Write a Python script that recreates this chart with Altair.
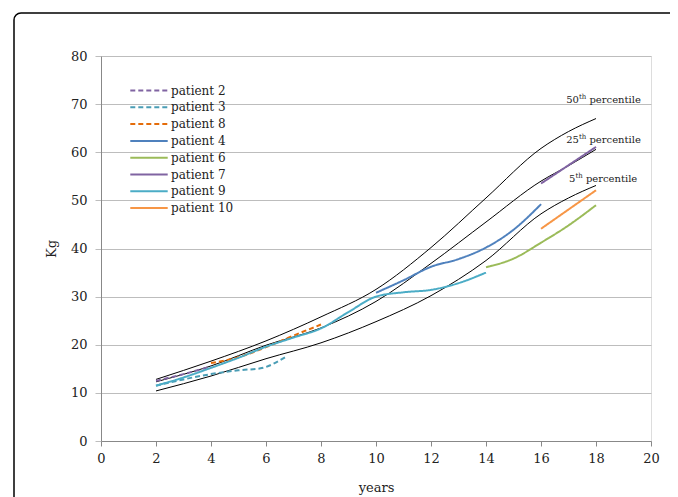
import altair as alt
import pandas as pd

# ---------------- data ----------------
pct_names = ["50th", "25th", "5th"]
pct_years = [2, 4, 6, 8, 10, 12, 14, 16, 17, 18]
pct50 = [12.8, 16.6, 20.8, 25.8, 31.5, 40.2, 50.5, 60.8, 64.3, 67.0]
pct25 = [12.3, 15.6, 19.9, 23.5, 29.0, 36.9, 45.5, 54.0, 57.2, 60.6]
pct05 = [10.4, 13.5, 17.1, 20.4, 24.8, 30.2, 37.5, 47.2, 50.5, 53.1]

patients = ["patient 2", "patient 3", "patient 8", "patient 4",
            "patient 6", "patient 7", "patient 9", "patient 10"]
colors = ["#8064A2", "#4A9DB5", "#E46C0A", "#4F81BD",
          "#9BBB59", "#8064A2", "#4BACC6", "#F79646"]
dashes = [[5, 3], [5, 3], [5, 3], [1, 0], [1, 0], [1, 0], [1, 0], [1, 0]]

p2_years = [2, 3, 4]
p2_kg = [12.5, 13.9, 15.5]
p3_years = [2, 3, 4, 5, 5.8, 6.7]
p3_kg = [11.5, 12.8, 13.9, 14.7, 15.1, 17.4]
p8_years = [4, 5, 6, 7, 8]
p8_kg = [16.2, 17.4, 19.5, 21.9, 24.2]
p4_years = [10, 11, 12, 13, 14, 15, 16]
p4_kg = [30.8, 33.4, 36.2, 37.8, 40.2, 43.9, 49.2]
p6_years = [14, 15, 16, 17, 18]
p6_kg = [36.1, 37.9, 41.2, 44.8, 49.0]
p7_years = [16, 18]
p7_kg = [53.5, 61.1]
p9_years = [2, 3, 4, 5, 6, 7, 8, 9, 10, 11, 12, 13, 14]
p9_kg = [11.5, 13.2, 15.2, 17.3, 19.6, 21.5, 23.4, 26.8, 30.0, 30.9, 31.4, 32.8, 35.0]
p10_years = [16, 18]
p10_kg = [44.1, 52.1]

label_texts = ["50", "25", "5"]
label_x = [17.38, 17.38, 17.25]
label_y = [70.15, 62.0, 53.8]

x_ticks = list(range(0, 21, 2))
y_ticks = list(range(0, 81, 10))

FONT = "DejaVu Serif"

# ---------------- frames ----------------
pct_rows = []
for name, vals in zip(pct_names, [pct50, pct25, pct05]):
    for yr, v in zip(pct_years, vals):
        pct_rows.append({"year": yr, "kg": v, "pct": name})
pct_df = pd.DataFrame(pct_rows)

series = {
    "patient 2": (p2_years, p2_kg), "patient 3": (p3_years, p3_kg),
    "patient 8": (p8_years, p8_kg), "patient 4": (p4_years, p4_kg),
    "patient 6": (p6_years, p6_kg), "patient 7": (p7_years, p7_kg),
    "patient 9": (p9_years, p9_kg), "patient 10": (p10_years, p10_kg),
}
pat_rows = []
for name in patients:
    ys, ks = series[name]
    for yr, k in zip(ys, ks):
        pat_rows.append({"year": yr, "kg": k, "patient": name})
pat_df = pd.DataFrame(pat_rows)

lab_df = pd.DataFrame({"num": label_texts, "x": label_x, "y": label_y})

xscale = alt.Scale(domain=[0, 20], nice=False)
yscale = alt.Scale(domain=[0, 80], nice=False)

xaxis = alt.Axis(values=x_ticks, title="years", grid=False, tickSize=5,
                 tickColor="#888888", domainColor="#888888", labelFont=FONT,
                 labelFontSize=13, labelColor="#222222", labelPadding=6,
                 labelFlush=False,
                 titleFont=FONT, titleFontSize=13, titleFontWeight="normal",
                 titleColor="#222222", titleBaseline="alphabetic", titleY=50)
yaxis = alt.Axis(values=y_ticks, title="Kg", grid=True, gridColor="#BDBDBD",
                 tickSize=6, tickColor="#BDBDBD", domainColor="#888888",
                 labelFont=FONT, labelFontSize=13, labelColor="#222222",
                 labelPadding=8, labelFlush=False, titleFont=FONT, titleFontSize=13,
                 titleFontWeight="normal", titleColor="#222222", titlePadding=12)

frame = alt.Chart(pd.DataFrame({"a": [0]})).mark_rect(
    fill=None, stroke="#000000", strokeWidth=1.5, cornerRadius=7
).encode(x=alt.value(-87), x2=alt.value(580), y=alt.value(-43), y2=alt.value(460))

pct_lines = alt.Chart(pct_df).mark_line(
    color="#000000", strokeWidth=1, interpolate="monotone"
).encode(
    x=alt.X("year:Q", scale=xscale, axis=xaxis),
    y=alt.Y("kg:Q", scale=yscale, axis=yaxis),
    detail="pct:N",
)

pat_lines = alt.Chart(pat_df).mark_line(
    strokeWidth=2, interpolate="monotone"
).encode(
    x=alt.X("year:Q", scale=xscale),
    y=alt.Y("kg:Q", scale=yscale),
    color=alt.Color("patient:N", sort=patients,
                    scale=alt.Scale(domain=patients, range=colors),
                    legend=alt.Legend(title=None, orient="none", legendX=28, legendY=27,
                                      symbolType="stroke", symbolSize=1400,
                                      symbolStrokeWidth=2, labelFont=FONT,
                                      labelFontSize=12, labelColor="#222222",
                                      clipHeight=15, rowPadding=1.8, labelOffset=2)),
    strokeDash=alt.StrokeDash("patient:N", sort=patients,
                              scale=alt.Scale(domain=patients, range=dashes),
                              legend=alt.Legend(title=None)),
)

base_lab = alt.Chart(lab_df).encode(
    x=alt.X("x:Q", scale=xscale), y=alt.Y("y:Q", scale=yscale))
num_text = base_lab.mark_text(font=FONT, fontSize=10, align="right",
                              baseline="alphabetic", color="#222222").encode(text="num:N")
th_text = base_lab.mark_text(font=FONT, fontSize=7, align="left", dy=-4,
                             baseline="alphabetic", color="#222222", text="th")
pc_text = base_lab.mark_text(font=FONT, fontSize=10, align="left", dx=10.5,
                             baseline="alphabetic", color="#222222", text="percentile")

chart = alt.layer(frame, pct_lines, pat_lines, num_text, th_text, pc_text).properties(
    width=550, height=385,
    padding={"left": 93, "top": 48, "right": 19, "bottom": 56},
    autosize=alt.AutoSizeParams(type="none"),
).configure_view(stroke=None).configure(background="#ffffff")

chart.save("out.html", embed_options={"renderer": "svg", "actions": False})
